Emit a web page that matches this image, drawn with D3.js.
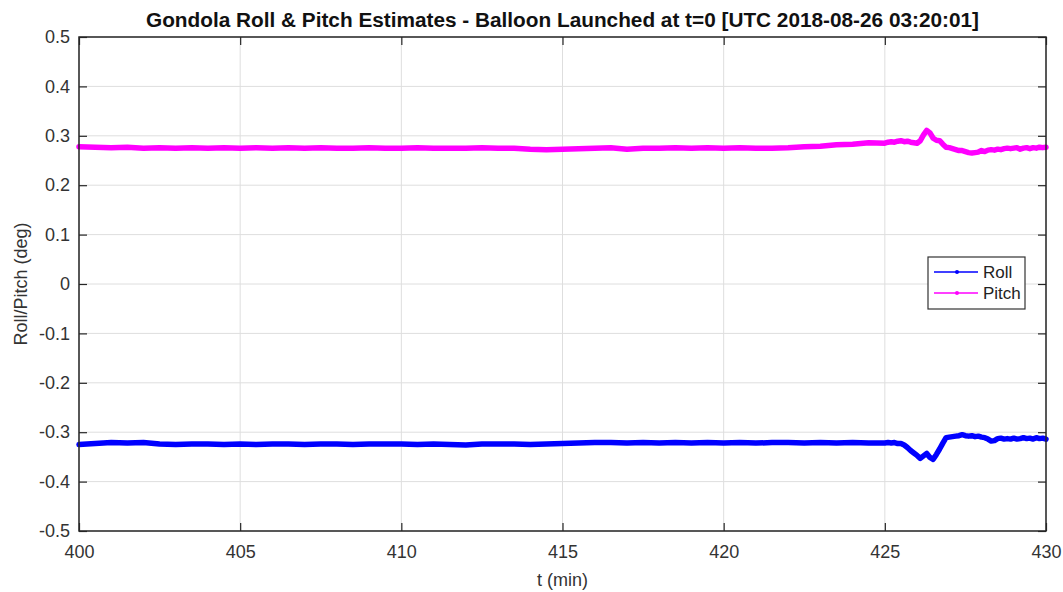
<!DOCTYPE html>
<html><head><meta charset="utf-8">
<script src="https://cdn.jsdelivr.net/npm/d3@7"></script>
<style>body{margin:0;background:#fff;} svg{display:block;font-family:"Liberation Sans",Arial,sans-serif;}</style>
</head><body>
<svg id="c" width="1063" height="592"></svg>
<script>
const titleText = "Gondola Roll & Pitch Estimates - Balloon Launched at t=0 [UTC 2018-08-26 03:20:01]";
const xLabel = "t (min)";
const yLabel = "Roll/Pitch (deg)";
const xTicks = [400,405,410,415,420,425,430];
const yTicks = [0.5,0.4,0.3,0.2,0.1,0,-0.1,-0.2,-0.3,-0.4,-0.5];
const seriesNames = ["Roll","Pitch"];
const seriesColors = ["#0000ff","#ff00ff"];

const time = [400,400.5,401,401.5,402,402.5,403,403.5,404,404.5,405,405.5,406,406.5,407,407.5,408,408.5,409,409.5,
410,410.5,411,411.5,412,412.5,413,413.5,414,414.5,415,415.5,416,416.5,417,417.5,418,418.5,419,419.5,
420,420.5,421,421.5,422,422.5,423,423.5,424,424.5,425,
425.1,425.2,425.3,425.4,425.5,425.6,425.7,425.8,425.9,426.0,426.1,426.2,426.3,426.4,426.5,426.6,426.7,426.8,426.9,
427.0,427.1,427.2,427.3,427.4,427.5,427.6,427.7,427.8,427.9,428.0,428.1,428.2,428.3,428.4,428.5,428.6,428.7,428.8,428.9,
429.0,429.1,429.2,429.3,429.4,429.5,429.6,429.7,429.8,429.9,430.0];

const pitch = [0.278,0.277,0.276,0.277,0.275,0.276,0.275,0.276,0.275,0.276,0.275,0.276,0.275,0.276,0.275,0.276,0.275,0.275,0.276,0.275,
0.275,0.276,0.275,0.275,0.275,0.276,0.275,0.275,0.273,0.272,0.273,0.274,0.275,0.276,0.273,0.275,0.275,0.276,0.275,0.276,
0.275,0.276,0.275,0.275,0.276,0.278,0.279,0.282,0.283,0.286,0.285,
0.287,0.288,0.287,0.289,0.290,0.288,0.289,0.287,0.286,0.285,0.290,0.302,0.311,0.306,0.295,0.291,0.290,0.283,0.277,
0.276,0.274,0.272,0.270,0.270,0.268,0.266,0.265,0.266,0.267,0.270,0.268,0.271,0.272,0.271,0.273,0.272,0.274,0.275,0.274,
0.275,0.276,0.273,0.275,0.276,0.274,0.276,0.275,0.277,0.276,0.277];

const roll = [-0.325,-0.323,-0.321,-0.322,-0.321,-0.324,-0.325,-0.324,-0.324,-0.325,-0.324,-0.325,-0.324,-0.324,-0.325,-0.324,-0.324,-0.325,-0.324,-0.324,
-0.324,-0.325,-0.324,-0.325,-0.326,-0.324,-0.324,-0.324,-0.325,-0.324,-0.323,-0.322,-0.321,-0.321,-0.322,-0.321,-0.322,-0.321,-0.322,-0.321,
-0.322,-0.321,-0.322,-0.321,-0.321,-0.322,-0.321,-0.322,-0.321,-0.322,-0.322,
-0.321,-0.322,-0.321,-0.323,-0.323,-0.326,-0.331,-0.337,-0.342,-0.347,-0.353,-0.348,-0.343,-0.351,-0.355,-0.345,-0.334,-0.322,-0.311,
-0.310,-0.309,-0.308,-0.307,-0.305,-0.307,-0.308,-0.307,-0.309,-0.308,-0.310,-0.311,-0.314,-0.318,-0.317,-0.313,-0.312,-0.314,-0.313,-0.314,
-0.312,-0.314,-0.313,-0.311,-0.313,-0.312,-0.314,-0.311,-0.313,-0.312,-0.314];

const W = 1063, H = 592;
const m = {left:79, top:37, right:17, bottom:61};
const svg = d3.select("#c");
const x = d3.scaleLinear().domain([400,430]).range([m.left, W - m.right]);
const y = d3.scaleLinear().domain([-0.5,0.5]).range([H - m.bottom, m.top]);
const axisCol = "#262626", textCol = "#333";

// grid
const g = svg.append("g");
g.selectAll(".gx").data(xTicks).join("line")
  .attr("x1",d=>x(d)).attr("x2",d=>x(d)).attr("y1",m.top).attr("y2",H-m.bottom)
  .attr("stroke","#dedede").attr("stroke-width",1);
g.selectAll(".gy").data(yTicks).join("line")
  .attr("y1",d=>y(d)).attr("y2",d=>y(d)).attr("x1",m.left).attr("x2",W-m.right)
  .attr("stroke","#dedede").attr("stroke-width",1);

// lines
const line = d3.line().x(d=>x(d[0])).y(d=>y(d[1]));
[roll, pitch].forEach((vals,i)=>{
  svg.append("path").datum(time.map((t,j)=>[t,vals[j]]))
    .attr("d",line).attr("fill","none").attr("stroke",seriesColors[i])
    .attr("stroke-width",5.5).attr("stroke-linejoin","round").attr("stroke-linecap","round");
});

// axes
const tl = 8;
const fmtY = d => d === 0 ? "0" : d3.format(".1f")(d).replace("\u2212","-");
const axB = d3.axisBottom(x).tickValues(xTicks).tickSize(-tl).tickPadding(14).tickFormat(d3.format("d"));
const axL = d3.axisLeft(y).tickValues(yTicks).tickSize(-tl).tickPadding(9).tickFormat(fmtY);
const axT = d3.axisTop(x).tickValues(xTicks).tickSize(-tl).tickFormat("");
const axR = d3.axisRight(y).tickValues(yTicks).tickSize(-tl).tickFormat("");
function style(sel){
  sel.selectAll("path,line").attr("stroke",axisCol).attr("stroke-width",1.2);
  sel.selectAll("text").attr("fill",textCol).attr("font-size",18).attr("font-family","Liberation Sans, Arial, sans-serif");
}
svg.append("g").attr("transform",`translate(0,${H-m.bottom})`).call(axB).call(style).select(".domain").remove();
svg.append("g").attr("transform",`translate(${m.left},0)`).call(axL).call(style).select(".domain").remove();
svg.append("g").attr("transform",`translate(0,${m.top})`).call(axT).call(style).select(".domain").remove();
svg.append("g").attr("transform",`translate(${W-m.right},0)`).call(axR).call(style).select(".domain").remove();
svg.append("rect").attr("x",m.left).attr("y",m.top).attr("width",W-m.left-m.right).attr("height",H-m.top-m.bottom)
  .attr("fill","none").attr("stroke",axisCol).attr("stroke-width",1.5);

// title & labels
svg.append("text").attr("x",(m.left+W-m.right)/2).attr("y",27).attr("text-anchor","middle")
  .attr("font-weight","bold").attr("font-size",20).attr("textLength",833).attr("lengthAdjust","spacingAndGlyphs")
  .attr("fill","#111").text(titleText);
svg.append("text").attr("x",(m.left+W-m.right)/2).attr("y",586).attr("text-anchor","middle")
  .attr("font-size",18).attr("fill",textCol).text(xLabel);
svg.append("text").attr("transform",`translate(27,${(m.top+H-m.bottom)/2}) rotate(-90)`).attr("text-anchor","middle")
  .attr("font-size",18).attr("fill",textCol).text(yLabel);

// legend
const lg = svg.append("g").attr("transform","translate(928,257)");
lg.append("rect").attr("width",97).attr("height",52).attr("fill","#fff").attr("stroke","#333").attr("stroke-width",1.2);
seriesNames.forEach((n,i)=>{
  const yy = 15 + i*21;
  lg.append("line").attr("x1",6).attr("x2",50).attr("y1",yy).attr("y2",yy).attr("stroke",seriesColors[i]).attr("stroke-width",1.5);
  lg.append("circle").attr("cx",29).attr("cy",yy).attr("r",2).attr("fill",seriesColors[i]);
  lg.append("text").attr("x",55).attr("y",yy+6).attr("font-size",17).attr("fill","#222").text(n);
});
</script>
</body></html>
